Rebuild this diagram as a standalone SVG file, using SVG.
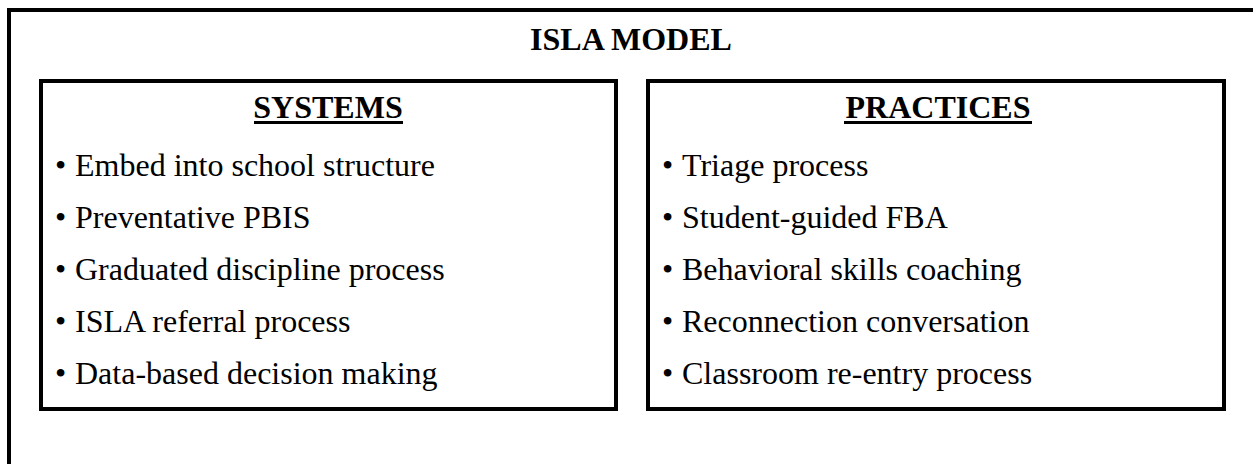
<svg xmlns="http://www.w3.org/2000/svg" width="1253" height="464" viewBox="0 0 1253 464">
<style>
.frame{fill:none;stroke:#000;stroke-width:4}
.hdr{font-family:"Liberation Serif","Times New Roman",serif;font-weight:bold;font-size:32px;fill:#000;text-anchor:middle}
.item{font-family:"Liberation Serif","Times New Roman",serif;font-size:32px;fill:#000}
.ul{stroke:#000;stroke-width:3}
</style>
<rect width="1253" height="464" fill="#fff"/>
<g id="outer">
<path class="frame" d="M9,466 V10 H1255" stroke-linecap="square"/>
<text class="hdr" x="631" y="50">ISLA MODEL</text>
</g>
<g id="systems">
<rect class="frame" x="41" y="81" width="575" height="328"/>
<text class="hdr" x="328" y="118">SYSTEMS</text>
<line class="ul" x1="254" y1="122.5" x2="403" y2="122.5"/>
<text class="item" y="176"><tspan x="55">•</tspan><tspan x="75">Embed into school structure</tspan></text>
<text class="item" y="228"><tspan x="55">•</tspan><tspan x="75">Preventative PBIS</tspan></text>
<text class="item" y="280"><tspan x="55">•</tspan><tspan x="75">Graduated discipline process</tspan></text>
<text class="item" y="332"><tspan x="55">•</tspan><tspan x="75">ISLA referral process</tspan></text>
<text class="item" y="384"><tspan x="55">•</tspan><tspan x="75">Data-based decision making</tspan></text>
</g>
<g id="practices">
<rect class="frame" x="648" y="81" width="576" height="328"/>
<text class="hdr" x="938" y="118">PRACTICES</text>
<line class="ul" x1="844" y1="122.5" x2="1032" y2="122.5"/>
<text class="item" y="176"><tspan x="662">•</tspan><tspan x="682">Triage process</tspan></text>
<text class="item" y="228"><tspan x="662">•</tspan><tspan x="682">Student-guided FBA</tspan></text>
<text class="item" y="280"><tspan x="662">•</tspan><tspan x="682">Behavioral skills coaching</tspan></text>
<text class="item" y="332"><tspan x="662">•</tspan><tspan x="682">Reconnection conversation</tspan></text>
<text class="item" y="384"><tspan x="662">•</tspan><tspan x="682">Classroom re-entry process</tspan></text>
</g>
<g id="connectors"/>
</svg>
